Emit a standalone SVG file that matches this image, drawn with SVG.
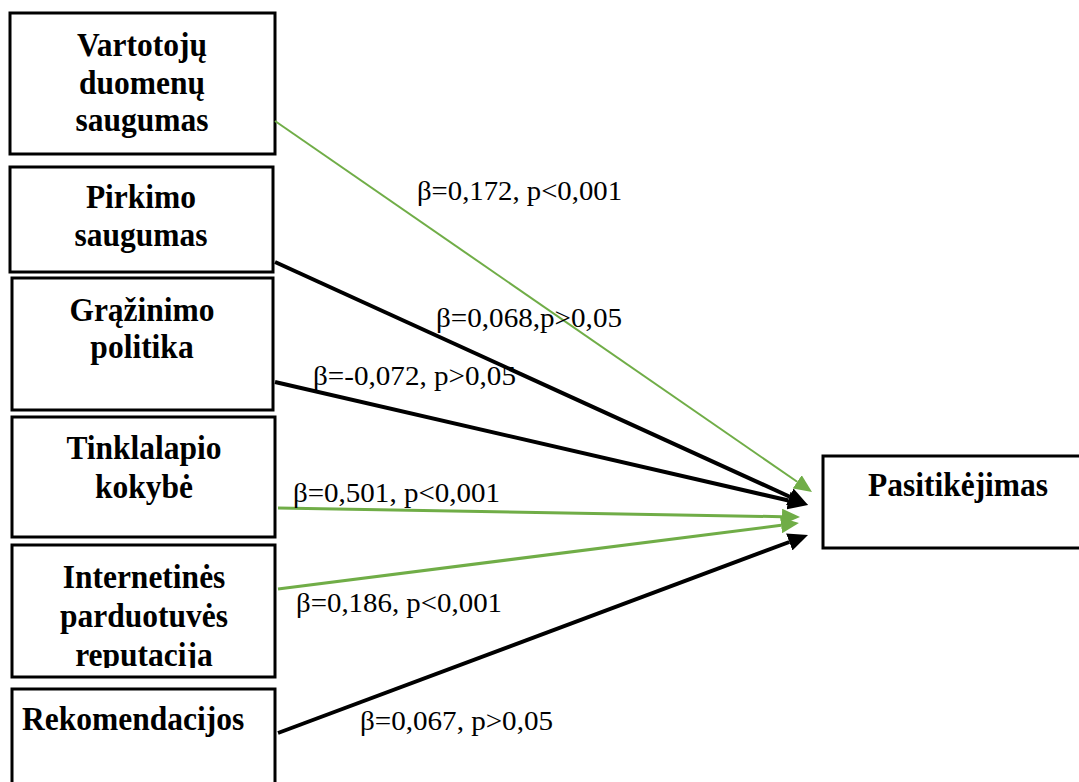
<svg xmlns="http://www.w3.org/2000/svg" width="1079" height="782" viewBox="0 0 1079 782">
  <style>
    .box { fill: #ffffff; stroke: #000000; stroke-width: 3; }
    .name { font-family: "Liberation Serif", "Times New Roman", serif; font-weight: bold; font-size: 31.5px; fill: #000000; text-anchor: middle; }
    .coef { font-family: "Liberation Serif", "Times New Roman", serif; font-size: 28px; fill: #000000; }
    .pos { stroke: #70ad47; fill: none; }
    .neg { stroke: #000000; stroke-width: 4; fill: none; }
  </style>
  <defs>
    <marker id="headBlack" markerUnits="userSpaceOnUse" viewBox="0 0 20 18" refX="0" refY="9" markerWidth="20" markerHeight="18" orient="auto">
      <path d="M0,0 L20,9 L0,18 z" fill="#000000"/>
    </marker>
    <marker id="headGreen" markerUnits="userSpaceOnUse" viewBox="0 0 18 16" refX="0" refY="8" markerWidth="18" markerHeight="16" orient="auto">
      <path d="M0,0 L18,8 L0,16 z" fill="#70ad47"/>
    </marker>
    <clipPath id="clipReputacija">
      <rect x="12" y="545" width="263" height="123"/>
    </clipPath>
  </defs>

  <rect width="1079" height="782" fill="#ffffff"/>

  <!-- factor boxes; names are drawn slightly tall (scale 1 x 1.1) -->
  <g id="node-vartotoju">
    <rect class="box" x="10" y="13" width="265" height="141"/>
    <text class="name" transform="translate(142,56) scale(1,1.1)">Vartotojų</text>
    <text class="name" transform="translate(142,94) scale(1,1.1)">duomenų</text>
    <text class="name" transform="translate(142,131) scale(1,1.1)">saugumas</text>
  </g>
  <g id="node-pirkimo">
    <rect class="box" x="10" y="167" width="263" height="105"/>
    <text class="name" transform="translate(141,208) scale(1,1.1)">Pirkimo</text>
    <text class="name" transform="translate(141,246) scale(1,1.1)">saugumas</text>
  </g>
  <g id="node-grazinimo">
    <rect class="box" x="12" y="278" width="261" height="132"/>
    <text class="name" transform="translate(142,321) scale(1,1.1)">Grąžinimo</text>
    <text class="name" transform="translate(142,358) scale(1,1.1)">politika</text>
  </g>
  <g id="node-tinklalapio">
    <rect class="box" x="12" y="417" width="263" height="120"/>
    <text class="name" transform="translate(144,459) scale(1,1.1)">Tinklalapio</text>
    <text class="name" transform="translate(144,498) scale(1,1.1)">kokybė</text>
  </g>
  <g id="node-internetines">
    <rect class="box" x="12" y="545" width="263" height="132"/>
    <text class="name" transform="translate(144,588) scale(1,1.1)">Internetinės</text>
    <text class="name" transform="translate(144,627) scale(1,1.1)">parduotuvės</text>
    <g clip-path="url(#clipReputacija)">
      <text class="name" transform="translate(144,666) scale(1,1.1)">reputacija</text>
    </g>
  </g>
  <g id="node-rekomendacijos">
    <rect class="box" x="12" y="689" width="263" height="110"/>
    <text class="name" transform="translate(22,730) scale(1,1.1)" style="text-anchor:start">Rekomendacijos</text>
  </g>

  <!-- outcome box -->
  <g id="node-pasitikejimas">
    <rect class="box" x="823" y="456" width="270" height="92"/>
    <text class="name" transform="translate(958,496) scale(1,1.1)">Pasitikėjimas</text>
  </g>

  <!-- paths to the outcome -->
  <g id="connectors">
    <line class="pos" x1="275" y1="121" x2="797.2" y2="481.8" stroke-width="2" marker-end="url(#headGreen)"/>
    <line class="neg" x1="275" y1="262" x2="789.8" y2="496.7" marker-end="url(#headBlack)"/>
    <line class="neg" x1="275" y1="382" x2="788.5" y2="500.5" marker-end="url(#headBlack)"/>
    <line class="pos" x1="278" y1="508" x2="782" y2="516.7" stroke-width="3" marker-end="url(#headGreen)"/>
    <line class="pos" x1="278" y1="589" x2="781.1" y2="525.3" stroke-width="3" marker-end="url(#headGreen)"/>
    <line class="neg" x1="278" y1="733" x2="789.3" y2="542" marker-end="url(#headBlack)"/>
  </g>

  <!-- coefficients -->
  <g id="labels">
    <text class="coef" x="417" y="200" textLength="205" lengthAdjust="spacingAndGlyphs">β=0,172, p&lt;0,001</text>
    <text class="coef" x="436" y="327" textLength="186" lengthAdjust="spacingAndGlyphs">β=0,068,p&gt;0,05</text>
    <text class="coef" x="313" y="385" textLength="203" lengthAdjust="spacingAndGlyphs">β=-0,072, p&gt;0,05</text>
    <text class="coef" x="293" y="502" textLength="207" lengthAdjust="spacingAndGlyphs">β=0,501, p&lt;0,001</text>
    <text class="coef" x="296" y="612" textLength="206" lengthAdjust="spacingAndGlyphs">β=0,186, p&lt;0,001</text>
    <text class="coef" x="360" y="730" textLength="193" lengthAdjust="spacingAndGlyphs">β=0,067, p&gt;0,05</text>
  </g>
</svg>
